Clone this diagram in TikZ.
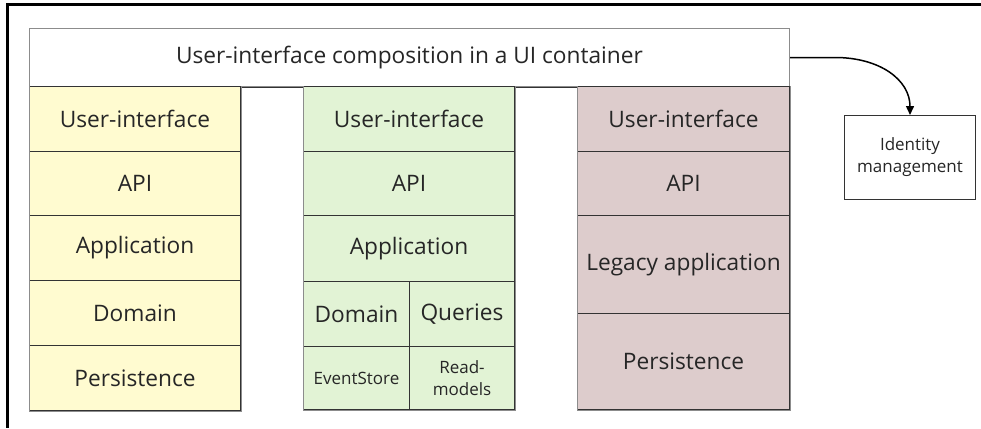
\documentclass[tikz,border=0pt]{standalone}
\usepackage{fontspec}
\setmainfont{Open Sans}
\usetikzlibrary{arrows.meta}

\definecolor{ylw}{HTML}{FFFBD0}
\definecolor{grn}{HTML}{E2F3D5}
\definecolor{rse}{HTML}{DDCCCC}
\definecolor{edge}{HTML}{333333}
\definecolor{rim}{HTML}{8C8C8C}
\definecolor{ink}{HTML}{262626}

\begin{document}
\begin{tikzpicture}[x=1pt,y=-1pt,
  cell/.style={draw=edge, line width=1pt, anchor=north west, inner sep=0pt,
    text=ink, align=center, font=\fontsize{22.7}{28}\selectfont},
  small/.style={font=\fontsize{17}{22}\selectfont},
  rimline/.style={draw=rim, line width=1pt},
  conn/.style={line width=1.5pt, -{Triangle[length=9pt,width=8pt]}}]

\useasboundingbox (0,0) rectangle (981,428);

% page frame
\draw[line width=3pt] (981,5) -- (7,5) -- (7,428);

% composition container
\node[cell, draw=rim, fill=white, minimum width=760pt, minimum height=58pt]
  (top) at (29,28) {User-interface composition in a UI container};
\draw[edge, line width=1pt] (top.south west) -- (top.south east);

% first service (yellow)
\node[cell, fill=ylw, minimum width=211pt, minimum height=65pt] (y1) at (29,86)  {User-interface};
\node[cell, fill=ylw, minimum width=211pt, minimum height=64pt] (y2) at (29,151) {API};
\node[cell, fill=ylw, minimum width=211pt, minimum height=65pt] (y3) at (29,215) {Application};
\node[cell, fill=ylw, minimum width=211pt, minimum height=65pt] (y4) at (29,280) {Domain};
\node[cell, fill=ylw, minimum width=211pt, minimum height=65pt] (y5) at (29,345) {Persistence};
\draw[rimline] (y1.north west) |- (y5.south east) -- (y1.north east);

% second service (green)
\node[cell, fill=grn, minimum width=211pt, minimum height=65pt] (g1) at (303,86)  {User-interface};
\node[cell, fill=grn, minimum width=211pt, minimum height=64pt] (g2) at (303,151) {API};
\node[cell, fill=grn, minimum width=211pt, minimum height=66pt] (g3) at (303,215) {Application};
\node[cell, fill=grn, minimum width=106pt, minimum height=65pt] (g4) at (303,281) {Domain};
\node[cell, fill=grn, minimum width=105pt, minimum height=65pt] (g5) at (409,281) {Queries};
\node[cell, small, fill=grn, minimum width=106pt, minimum height=63pt] (g6) at (303,346) {EventStore};
\node[cell, small, fill=grn, minimum width=105pt, minimum height=63pt] (g7) at (409,346) {Read-\\models};
\draw[rimline] (g1.north west) |- (g7.south east) -- (g1.north east);

% third service (rose)
\node[cell, fill=rse, minimum width=212pt, minimum height=65pt] (r1) at (577,86)  {User-interface};
\node[cell, fill=rse, minimum width=212pt, minimum height=64pt] (r2) at (577,151) {API};
\node[cell, fill=rse, minimum width=212pt, minimum height=98pt] (r3) at (577,215) {Legacy application};
\node[cell, fill=rse, minimum width=212pt, minimum height=96pt] (r4) at (577,313) {Persistence};
\draw[rimline] (r1.north west) |- (r4.south east) -- (r1.north east);

% identity provider
\node[cell, small, fill=white, minimum width=131pt, minimum height=84pt] (idm) at (844,115) {Identity\\management};

\draw[conn] (top.east) -- ++(45,0) .. controls +(45,0) and +(0,-35) .. (idm.north);

\end{tikzpicture}
\end{document}
